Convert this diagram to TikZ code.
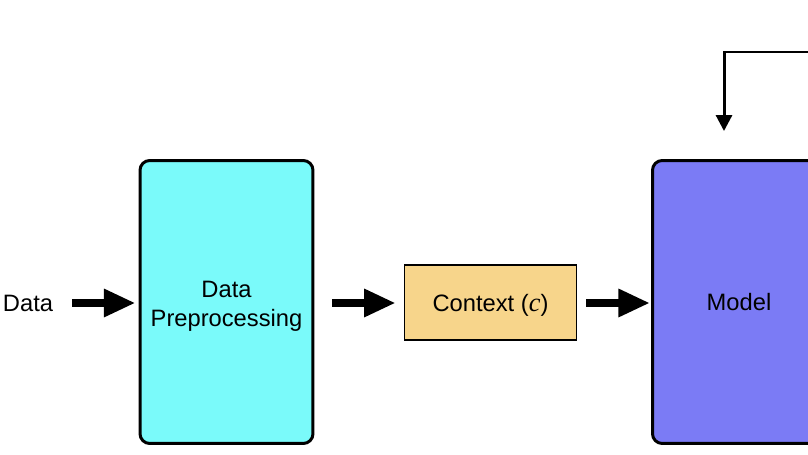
\documentclass[tikz,border=0pt]{standalone}
\usepackage{fontspec}
\setmainfont{Liberation Sans}
\newfontfamily\ctxserif{Liberation Serif}
\usetikzlibrary{arrows.meta}
\definecolor{prepcyan}{RGB}{122,250,250}
\definecolor{ctxorange}{RGB}{247,213,139}
\definecolor{modelblue}{RGB}{123,123,245}
\begin{document}
\begin{tikzpicture}[x=0.02cm,y=-0.02cm,
    blockbox/.style={draw=black,line width=1.7pt,rounded corners=5.5pt,
      minimum width=3.46cm,minimum height=5.66cm,align=center,inner sep=0pt},
    ctxbox/.style={draw=black,line width=0.9pt,
      minimum width=3.44cm,minimum height=1.5cm,inner sep=0pt},
    bigarrow/.style={line width=4.6pt,-{Triangle[length=18pt,width=15pt]}},
    backarrow/.style={line width=1.7pt,-{Triangle[length=9pt,width=9pt]}}]
  \clip (0,0) rectangle (808,455);
  \fontsize{13.5}{17}\selectfont
  \node (data) at (28,303) {Data};
  \node [blockbox,fill=prepcyan,text height=31.2pt,text depth=2.8pt] (prep) at (226.5,302) {Data\\Preprocessing};
  \node [ctxbox,fill=ctxorange,text height=10.8pt,text depth=0pt] (ctx) at (490.5,302.5) {Context ({\ctxserif\itshape\fontsize{15}{17}\selectfont c})};
  \node [blockbox,fill=modelblue] (model) at (739,302) {Model};
  \coordinate (fbin) at (830,52);
  \coordinate (fbcorner) at (724,52);
  \draw [bigarrow] (72,303) -- ([xshift=-0.06cm]prep.west |- 0,303);
  \draw [bigarrow] ([xshift=0.36cm]prep.east |- 0,303) -- ([xshift=-0.16cm]ctx.west |- 0,303);
  \draw [bigarrow] ([xshift=0.18cm]ctx.east |- 0,303) -- ([xshift=-0.02cm]model.west |- 0,303);
  \draw [backarrow] (fbin) -- (fbcorner) -- ([yshift=0.56cm]fbcorner |- model.north);
\end{tikzpicture}
\end{document}
